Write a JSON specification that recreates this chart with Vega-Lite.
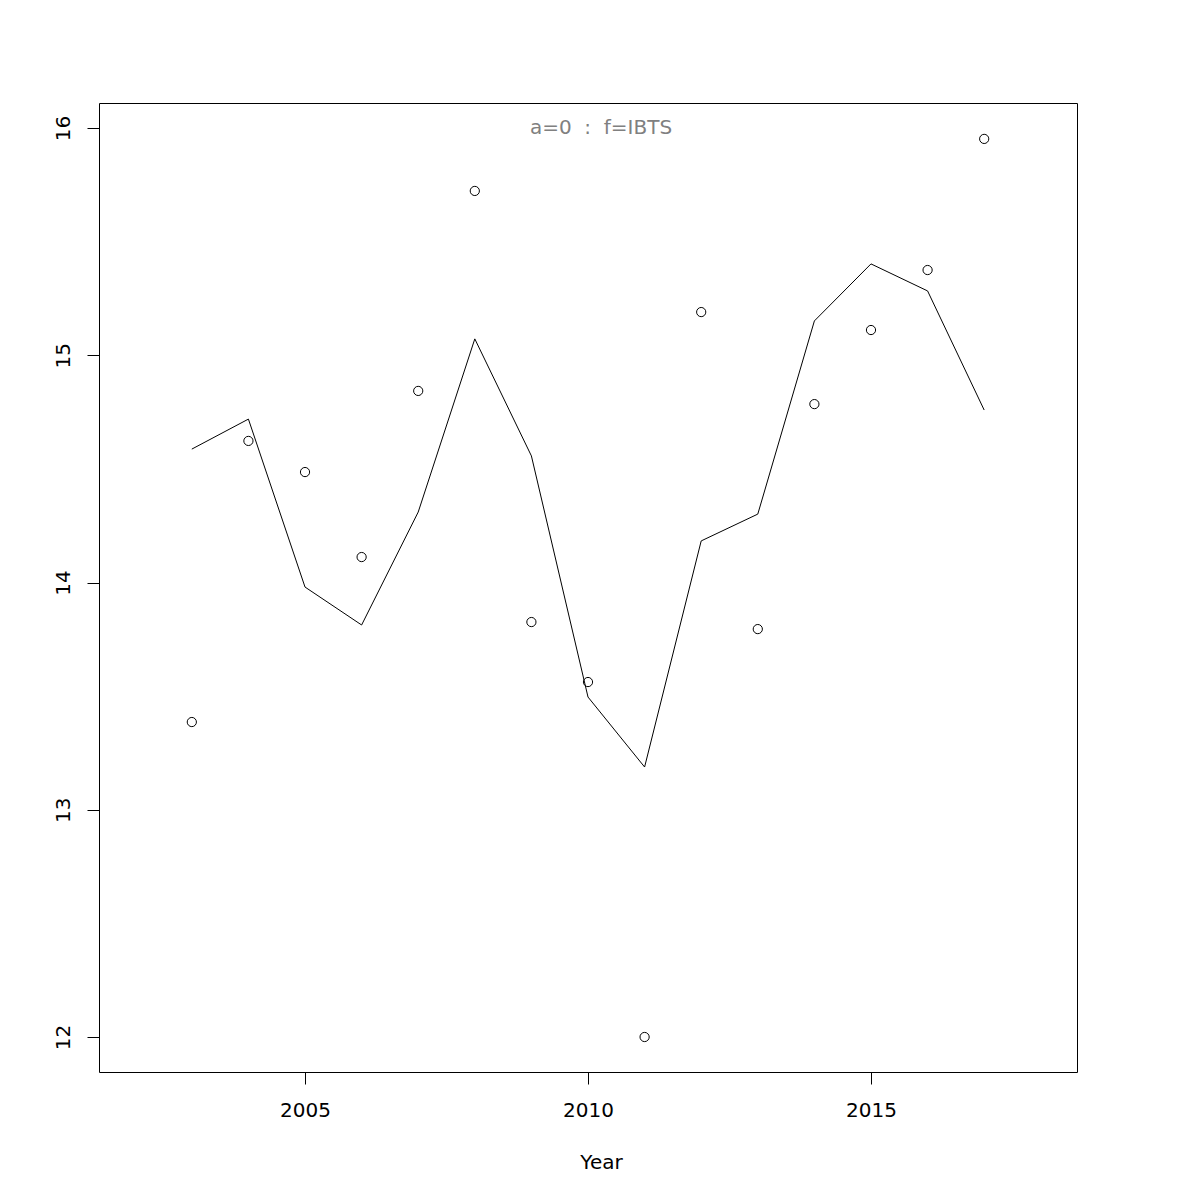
{
  "$schema": "https://vega.github.io/schema/vega-lite/v6.json",
  "width": 978,
  "height": 969,
  "autosize": {"type": "none"},
  "padding": {"left": 99, "top": 103, "right": 123, "bottom": 128},
  "background": "white",
  "config": {
    "font": "DejaVu Sans",
    "view": {"stroke": "black", "strokeWidth": 1},
    "axis": {"grid": false, "domain": false, "tickColor": "black", "tickSize": 12, "tickWidth": 1, "labelFontSize": 20, "labelColor": "black", "titleFontSize": 20, "titleFontWeight": "normal", "titleColor": "black", "labelFont": "DejaVu Sans", "titleFont": "DejaVu Sans"}
  },
  "title": {"text": "a=0\u00a0\u00a0:\u00a0\u00a0f=IBTS", "frame": "group", "anchor": "middle", "orient": "top", "offset": -45, "baseline": "middle", "dx": 13, "fontSize": 20, "fontWeight": "normal", "color": "#808080", "font": "DejaVu Sans"},
  "data": {"values": [
    {"Year": 2003, "obs": 13.386, "fit": 14.587},
    {"Year": 2004, "obs": 14.623, "fit": 14.719},
    {"Year": 2005, "obs": 14.486, "fit": 13.980},
    {"Year": 2006, "obs": 14.112, "fit": 13.813},
    {"Year": 2007, "obs": 14.843, "fit": 14.310},
    {"Year": 2008, "obs": 15.723, "fit": 15.072},
    {"Year": 2009, "obs": 13.826, "fit": 14.557},
    {"Year": 2010, "obs": 13.562, "fit": 13.496},
    {"Year": 2011, "obs": 12.000, "fit": 13.188},
    {"Year": 2012, "obs": 15.190, "fit": 14.183},
    {"Year": 2013, "obs": 13.795, "fit": 14.301},
    {"Year": 2014, "obs": 14.785, "fit": 15.151},
    {"Year": 2015, "obs": 15.111, "fit": 15.402},
    {"Year": 2016, "obs": 15.375, "fit": 15.283},
    {"Year": 2017, "obs": 15.952, "fit": 14.759}
  ]},
  "encoding": {
    "x": {"field": "Year", "type": "quantitative", "scale": {"domain": [2001.36, 2018.64], "nice": false, "zero": false},
      "axis": {"values": [2005, 2010, 2015], "format": "d", "title": "Year", "labelPadding": 16, "titlePadding": 32, "titleX": 502}}
  },
  "layer": [
    {
      "mark": {"type": "line", "color": "black", "strokeWidth": 1},
      "encoding": {
        "y": {"field": "fit", "type": "quantitative", "scale": {"domain": [11.846, 16.11], "nice": false, "zero": false},
          "axis": {"values": [12, 13, 14, 15, 16], "format": "d", "title": null, "labelAngle": -90, "labelAlign": "center", "labelBaseline": "bottom", "labelPadding": 14}}
      }
    },
    {
      "mark": {"type": "point", "shape": "circle", "filled": false, "color": "black", "strokeWidth": 1, "size": 85, "opacity": 1},
      "encoding": {
        "y": {"field": "obs", "type": "quantitative"}
      }
    }
  ]
}
